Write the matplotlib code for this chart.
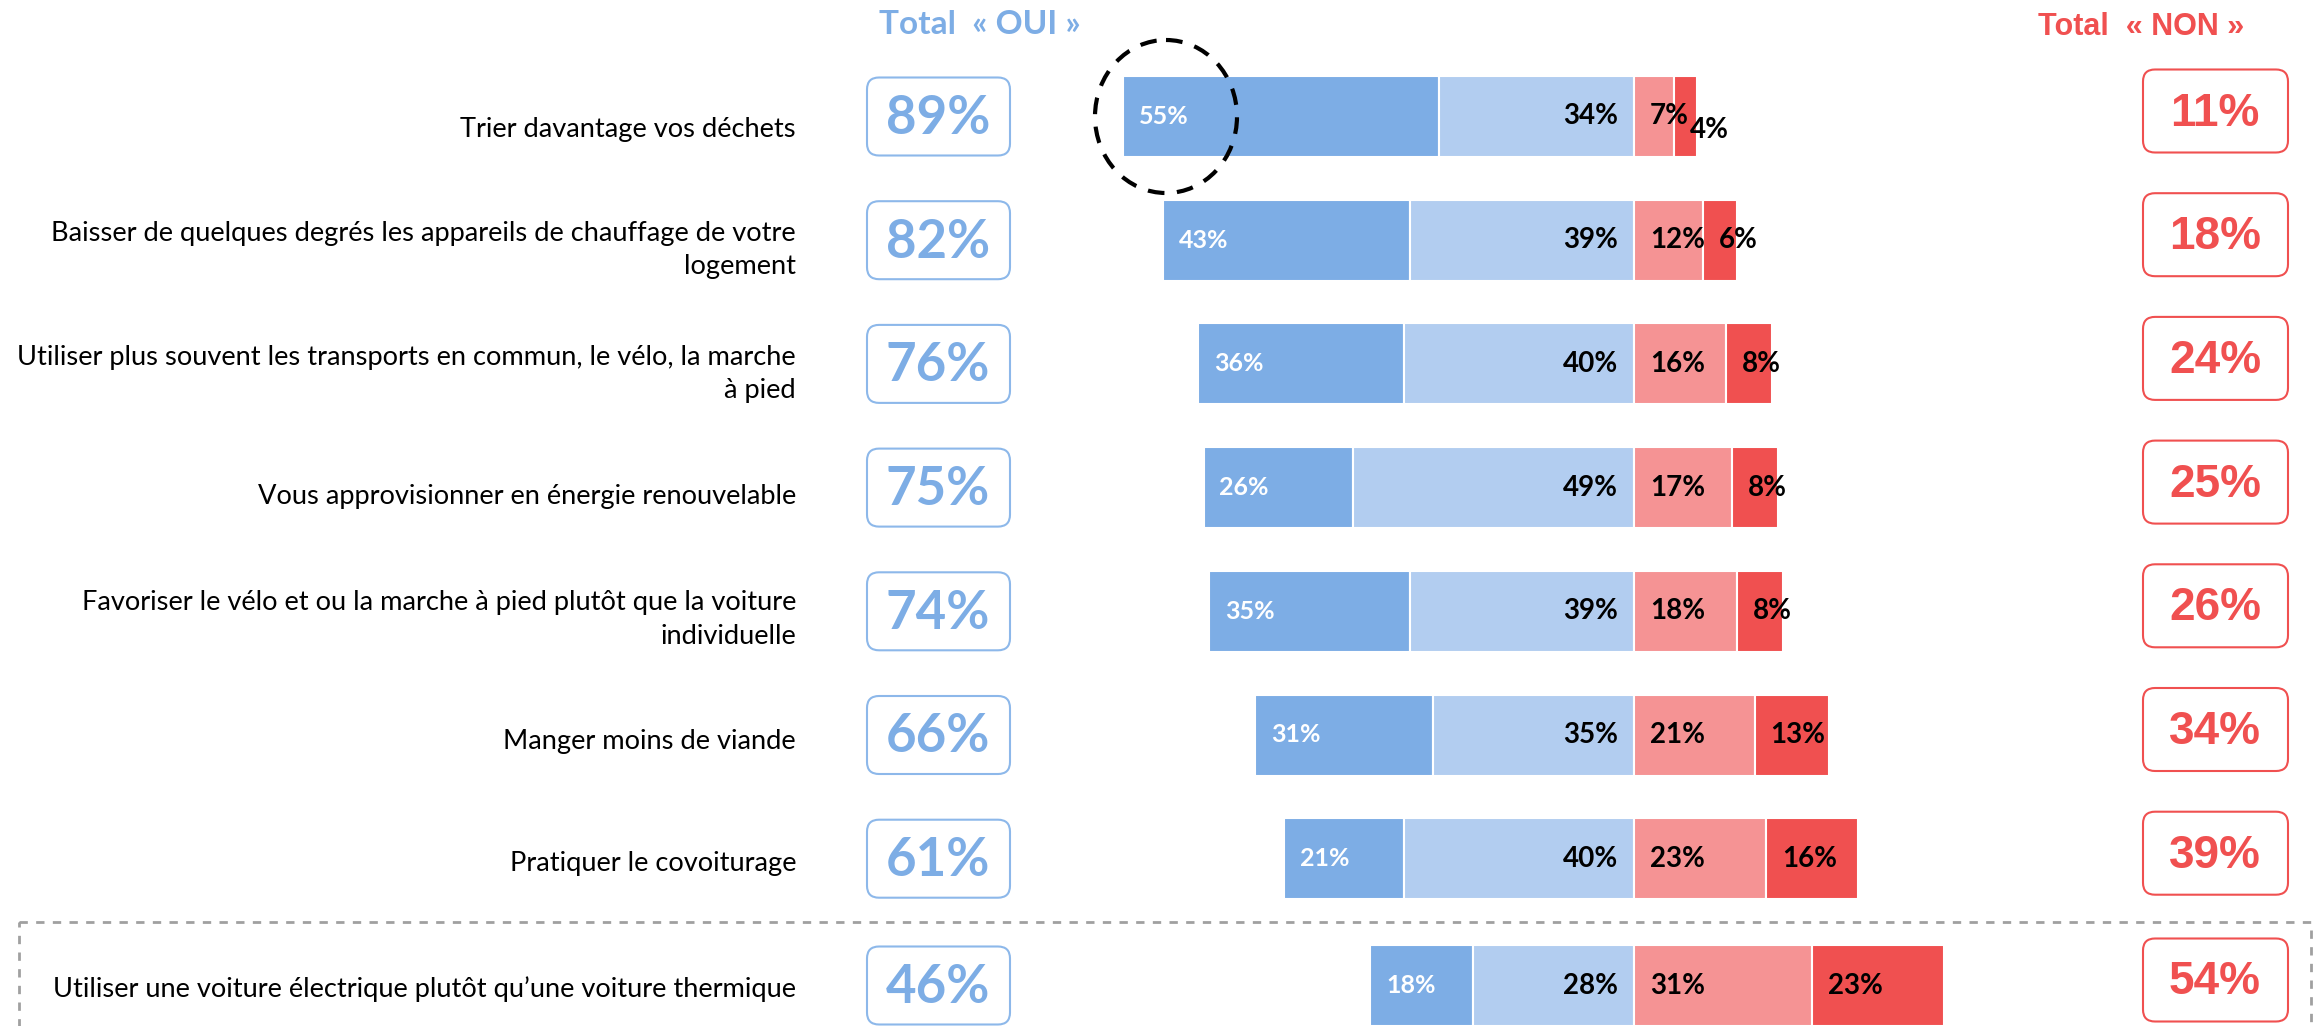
import matplotlib
matplotlib.use("Agg")
import matplotlib.pyplot as plt
import numpy as np
from matplotlib.patches import FancyBboxPatch, Ellipse, Rectangle

# data
labels = [
    "Trier davantage vos déchets",
    "Baisser de quelques degrés les appareils de chauffage de votre\nlogement",
    "Utiliser plus souvent les transports en commun, le vélo, la marche\nà pied",
    "Vous approvisionner en énergie renouvelable",
    "Favoriser le vélo et ou la marche à pied plutôt que la voiture\nindividuelle",
    "Manger moins de viande",
    "Pratiquer le covoiturage",
    "Utiliser une voiture électrique plutôt qu\u2019une voiture thermique",
]
oui_fort = [55, 43, 36, 26, 35, 31, 21, 18]
oui_plutot = [34, 39, 40, 49, 39, 35, 40, 28]
non_plutot = [7, 12, 16, 17, 18, 21, 23, 31]
non_fort = [4, 6, 8, 8, 8, 13, 16, 23]

oui_fort = np.array(oui_fort)
oui_plutot = np.array(oui_plutot)
non_plutot = np.array(non_plutot)
non_fort = np.array(non_fort)
total_oui = oui_fort + oui_plutot
total_non = non_plutot + non_fort

c_dark = "#7DADE5"
c_light = "#B2CDF0"
c_pink = "#F59394"
c_red = "#F05050"

W, H = 2323, 1026
fig = plt.figure(figsize=(W / 100, H / 100), dpi=100, facecolor="white")

# bars in percent units, y in pixel rows
px_per_pct = 5.74
center_px = 1634
ax = fig.add_axes([0, 0, 1, 1])
ax.set_xlim(-center_px / px_per_pct, (W - center_px) / px_per_pct)
ax.set_ylim(H, 0)
ax.axis("off")

# overlay for boxes/annotations in pixels
deco = fig.add_axes([0, 0, 1, 1], zorder=3)
deco.set_xlim(0, W)
deco.set_ylim(H, 0)
deco.axis("off")
deco.patch.set_alpha(0)

ys = [116.5 + i * 123.7 for i in range(7)] + [985.5]
label_dy = [13, 10, 10, 9, 8, 6, 5, 4]
bh = 81

ax.barh(ys, oui_fort, left=-(oui_fort + oui_plutot), height=bh, color=c_dark,
        edgecolor="white", linewidth=1.5)
ax.barh(ys, oui_plutot, left=-oui_plutot, height=bh, color=c_light,
        edgecolor="white", linewidth=1.5)
ax.barh(ys, non_plutot, left=0, height=bh, color=c_pink,
        edgecolor="white", linewidth=1.5)
ax.barh(ys, non_fort, left=non_plutot, height=bh, color=c_red,
        edgecolor="white", linewidth=1.5)

off = 16 / px_per_pct
calibri = "Lato"
for i, y in enumerate(ys):
    ax.text(-total_oui[i] + off, y, f"{oui_fort[i]}%", color="white",
            fontsize=18, fontweight="bold", family=calibri, ha="left", va="center")
    ax.text(-off, y, f"{oui_plutot[i]}%", color="black",
            fontsize=20, fontweight="bold", family=calibri, ha="right", va="center")
    ax.text(off, y, f"{non_plutot[i]}%", color="black",
            fontsize=20, fontweight="bold", family=calibri, ha="left", va="center")
    dy = 13 if i == 0 else 0
    ax.text(non_plutot[i] + off, y + dy, f"{non_fort[i]}%", color="black",
            fontsize=20, fontweight="bold", family=calibri, ha="left", va="center")

    # question label
    deco.text(796, y + label_dy[i], labels[i], ha="right", va="center",
              fontsize=19.6, family=calibri, linespacing=1.42)

    # total boxes
    deco.add_patch(FancyBboxPatch((867 + 12, y - 39 + 12), 143 - 24, 78 - 24,
                                  boxstyle="round,pad=12", fc="white",
                                  ec="#8DB8EA", lw=1.5))
    deco.text(938, y + 2, f"{total_oui[i]}%", ha="center", va="center",
              fontsize=38, fontweight="bold", family=calibri, color=c_dark)
    deco.add_patch(FancyBboxPatch((2143 + 12, y - 6 - 41 + 12), 145 - 24, 83 - 24,
                                  boxstyle="round,pad=12", fc="white",
                                  ec=c_red, lw=1.5))
    deco.text(2215, y - 3, f"{total_non[i]}%", ha="center", va="center",
              fontsize=33, fontweight="bold", family="Liberation Sans",
              color=c_red)

# headers
deco.text(980, 25, "Total  « OUI »", ha="center", va="center", fontsize=24,
          fontweight="bold", family=calibri, color=c_dark)
deco.text(2141, 27, "Total  « NON »", ha="center", va="center", fontsize=22,
          fontweight="bold", family="Liberation Sans", color=c_red)

# highlight circle
deco.add_patch(Ellipse((1166, 116.5), 142, 153, fill=False, ec="black",
                       lw=3, ls=(0, (4, 3))))

# dashed frame around last item
deco.add_patch(Rectangle((19, 922), 2292, 140, fill=False, ec="#A0A0A0",
                         lw=2, ls=(0, (3, 3)), clip_on=False))

fig.savefig("out.png", dpi=100, facecolor="white")
